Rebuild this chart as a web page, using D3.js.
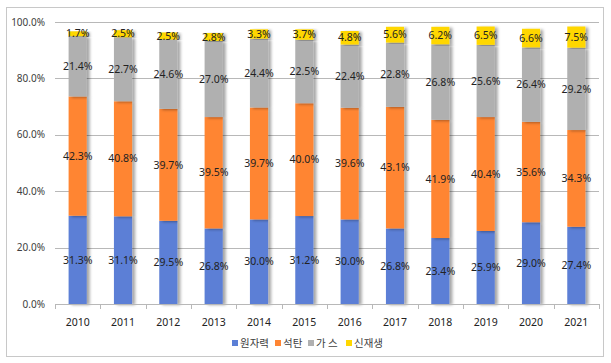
<!DOCTYPE html>
<html>
<head>
<meta charset="utf-8">
<script src="https://cdn.jsdelivr.net/npm/d3@7"></script>
<style>
  body { margin: 0; background: #fff; }
  svg { display: block; }
</style>
</head>
<body>
<div id="container"></div>
<script>
const years = ['2010', '2011', '2012', '2013', '2014', '2015', '2016', '2017', '2018', '2019', '2020', '2021']
const seriesNames = ['원자력', '석탄', '가 스', '신재생']
const nuclear = [31.3, 31.1, 29.5, 26.8, 30.0, 31.2, 30.0, 26.8, 23.4, 25.9, 29.0, 27.4]
const coal = [42.3, 40.8, 39.7, 39.5, 39.7, 40.0, 39.6, 43.1, 41.9, 40.4, 35.6, 34.3]
const gas = [21.4, 22.7, 24.6, 27.0, 24.4, 22.5, 22.4, 22.8, 26.8, 25.6, 26.4, 29.2]
const renew = [1.7, 2.5, 2.5, 2.8, 3.3, 3.7, 4.8, 5.6, 6.2, 6.5, 6.6, 7.5]
const yTicks = [0, 20, 40, 60, 80, 100]

const colors = ['#5b7fd6', '#ff8533', '#b0b0b0', '#ffd700']

const width = 611
const height = 363
const margin = { top: 22, right: 12, bottom: 59, left: 55 }

const svg = d3.select('#container')
    .append('svg')
    .attr('width', width)
    .attr('height', height)

// drop shadow like the excel bars
const defs = svg.append('defs')
defs.append('filter')
    .attr('id', 'shadow')
    .attr('x', '-20%').attr('y', '-5%')
    .attr('width', '160%').attr('height', '110%')
    .append('feDropShadow')
    .attr('dx', 3).attr('dy', 1)
    .attr('stdDeviation', 1.5)
    .attr('flood-color', '#000')
    .attr('flood-opacity', 0.35)

svg.append('rect')
    .attr('x', 6.5).attr('y', 7.5)
    .attr('width', 597).attr('height', 349)
    .attr('fill', '#fff')
    .attr('stroke', '#c8c8c8')

const table = years.map((y, i) => ({
    year: y, s0: nuclear[i], s1: coal[i], s2: gas[i], s3: renew[i]
}))
const stack = d3.stack().keys(['s0', 's1', 's2', 's3'])(table)

const xScale = d3.scaleBand()
    .domain(years)
    .range([margin.left, 599])
    .paddingInner(0.6)
    .paddingOuter(0.3)
const yScale = d3.scaleLinear()
    .domain([0, 100])
    .range([304, 22])

// grid
svg.append('g')
    .selectAll('line')
    .data(yTicks.filter(d => d > 0))
    .join('line')
    .attr('x1', margin.left).attr('x2', 599)
    .attr('y1', d => Math.round(yScale(d)) + 0.5)
    .attr('y2', d => Math.round(yScale(d)) + 0.5)
    .attr('stroke', '#b8b8b8')

svg.append('g')
    .selectAll('text')
    .data(yTicks)
    .join('text')
    .attr('x', 45)
    .attr('y', d => yScale(d))
    .attr('dy', '0.35em')
    .attr('text-anchor', 'end')
    .attr('font-family', 'Noto Sans, sans-serif')
    .attr('font-size', 10)
    .attr('fill', '#404040')
    .text(d => d.toFixed(1) + '%')

// bars
const layer = svg.append('g')
    .selectAll('g')
    .data(stack)
    .join('g')
    .attr('fill', (d, i) => colors[i])

layer.selectAll('rect')
    .data(d => d)
    .join('rect')
    .attr('x', d => xScale(d.data.year))
    .attr('width', xScale.bandwidth())
    .attr('y', d => yScale(d[1]))
    .attr('height', d => yScale(d[0]) - yScale(d[1]))
    .attr('filter', 'url(#shadow)')

// x axis
const xAxis = svg.append('g')
const bounds = years.map(y => xScale(y) - xScale.step() * xScale.paddingInner() / 2 - 0.5 * 0)
xAxis.append('line')
    .attr('x1', margin.left).attr('x2', 599)
    .attr('y1', 304.5).attr('y2', 304.5)
    .attr('stroke', '#b8b8b8')
const step = xScale.step()
xAxis.selectAll('.tick')
    .data(d3.range(years.length + 1))
    .join('line')
    .attr('x1', i => Math.round(margin.left + i * (599 - margin.left) / years.length) + 0.5)
    .attr('x2', i => Math.round(margin.left + i * (599 - margin.left) / years.length) + 0.5)
    .attr('y1', 304).attr('y2', 309)
    .attr('stroke', '#b8b8b8')
xAxis.selectAll('text')
    .data(years)
    .join('text')
    .attr('x', d => xScale(d) + xScale.bandwidth() / 2)
    .attr('y', 322)
    .attr('dy', '0.35em')
    .attr('text-anchor', 'middle')
    .attr('font-family', 'Noto Sans, sans-serif')
    .attr('font-size', 10.5)
    .attr('fill', '#222')
    .text(d => d)

// value labels
layer.selectAll('text')
    .data(d => d)
    .join('text')
    .attr('x', d => xScale(d.data.year) + xScale.bandwidth() / 2)
    .attr('y', d => yScale((d[0] + d[1]) / 2))
    .attr('dy', '0.35em')
    .attr('text-anchor', 'middle')
    .attr('font-family', 'Noto Sans, sans-serif')
    .attr('font-size', 10.5)
    .attr('fill', '#222')
    .text(d => (d[1] - d[0]).toFixed(1) + '%')

// legend
const legendX = [232, 275, 308, 346]
const legend = svg.append('g')
    .selectAll('g')
    .data(seriesNames)
    .join('g')
    .attr('transform', (d, i) => `translate(${legendX[i]}, 343)`)
legend.append('rect')
    .attr('x', 0).attr('y', -3)
    .attr('width', 6).attr('height', 6)
    .attr('fill', (d, i) => colors[i])
legend.append('text')
    .attr('x', 8)
    .attr('dy', '0.35em')
    .attr('font-family', 'Noto Sans CJK KR, sans-serif')
    .attr('font-size', 10.5)
    .attr('fill', '#404040')
    .text(d => d)
</script>
</body>
</html>
